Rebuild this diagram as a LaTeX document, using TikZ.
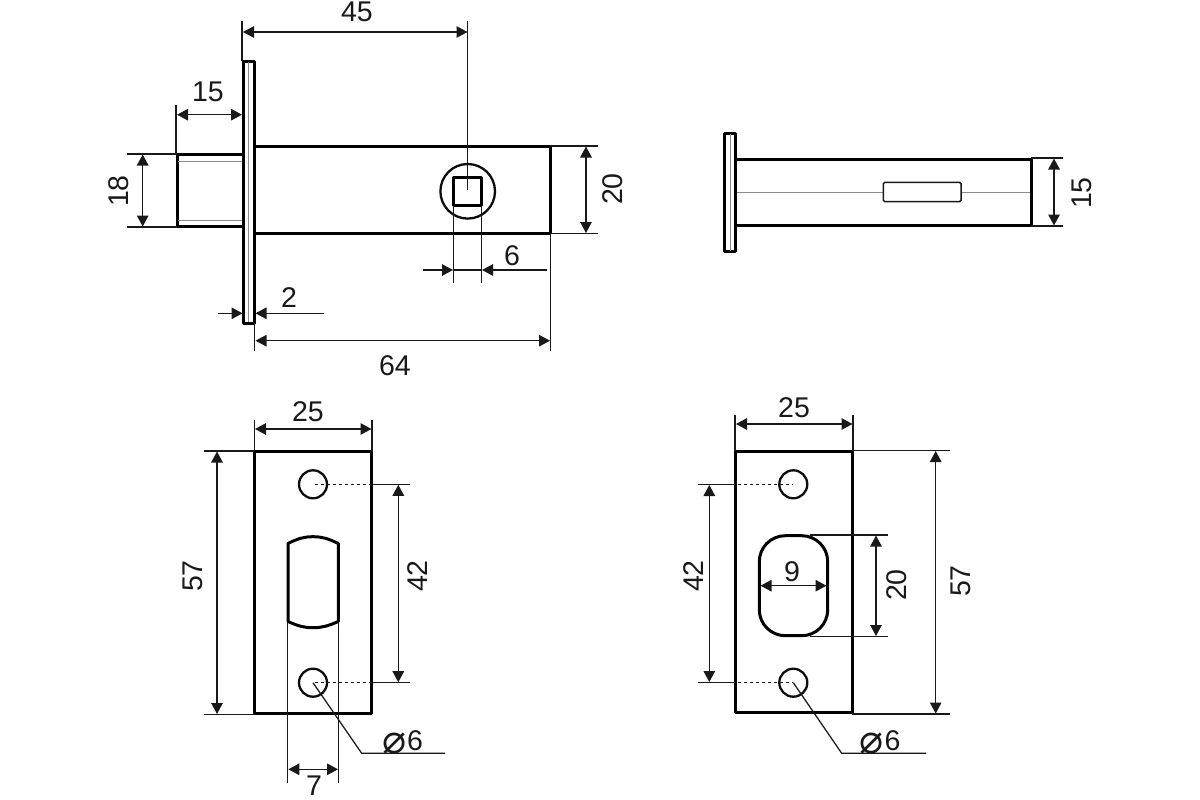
\documentclass[tikz,border=0pt]{standalone}
\usepackage{fontspec}
\setmainfont{Liberation Sans}
\newfontfamily\dejavu{DejaVu Sans}
\usetikzlibrary{arrows.meta}
\tikzset{
  x=1pt,y=-1pt,
  part/.style={line width=3pt,draw=black,line join=round},
  hole/.style={line width=2.3pt,draw=black!95},
  thinl/.style={line width=1.25pt,draw=black!90},
  hair/.style={line width=0.8pt,draw=black!45},
  dim/.style={line width=1.25pt,draw=black!90,{Triangle[length=11pt,width=11.5pt]}-{Triangle[length=11pt,width=11.5pt]}},
  dimend/.style={line width=1.25pt,draw=black!90,-{Triangle[length=11pt,width=11.5pt]}},
  dots/.style={line width=1.25pt,draw=black!90,dash pattern=on 3pt off 3pt},
  lab/.style={font=\fontsize{28.5}{28.5}\selectfont,text=black!90,inner sep=0pt},
  labr/.style={lab,rotate=90},
}
\newcommand{\diasym}{{\dejavu\fontsize{40}{40}\selectfont\raisebox{-3.5pt}{⌀}}}
\begin{document}
\begin{tikzpicture}
\useasboundingbox (0,0) rectangle (1200,800);
\fill[white] (0,0) rectangle (1200,800);

% ---- top-left view
\draw[part] (177.5,154.5) rectangle (243,226.5);
\draw[hair] (178,161) -- (243,161) (178,220.7) -- (243,220.7);
\draw[part] (255,146) -- (550,146) -- (550,233) -- (255,233);
\draw[part] (243.5,61.5) rectangle (254,323);
\draw[hair] (248.7,62) -- (248.7,322);
\draw[hole] (467.7,191.3) circle (27.3);
\draw[part] (453.5,177.7) rectangle (481.5,205.7);
% extension lines
\draw[thinl] (242,21) -- (242,61) (467.7,21) -- (467.7,190);
\draw[thinl] (176,105) -- (176,154) (127,154) -- (177,154) (127,227) -- (177,227);
\draw[thinl] (550,146) -- (598,146) (550,233.5) -- (598,233.5);
\draw[thinl] (453.3,206) -- (453.3,283) (481.7,206) -- (481.7,283);
\draw[thinl] (254.7,323) -- (254.7,351) (550.3,233) -- (550.3,351);
% dimensions
\coordinate (a45l) at (243,32); \coordinate (a45r) at (467.5,32);
\draw[dim] (a45l) -- (a45r);
\draw[dim] (177,114.7) -- (242,114.7);
\draw[dim] (142.7,154.5) -- (142.7,226.5);
\draw[dim] (586,146.5) -- (586,233);
\draw[dim] (255.5,340.7) -- (550,340.7);
\draw[dimend] (218,313.3) -- (242.5,313.3);
\draw[dimend] (324,313.3) -- (255.5,313.3);
\draw[dimend] (423,270) -- (453,270);
\draw[thinl] (453.3,270) -- (481.7,270);
\draw[dimend] (547,270) -- (482,270);
\node[lab] (t45) at (357,11.5) {45};
\node[lab] (t15a) at (208,91.5) {15};
\node[labr] (t18) at (119,191) {18};
\node[labr] (t20a) at (613,189) {20};
\node[lab] (t6) at (512,256) {6};
\node[lab] (t2) at (289,298) {2};
\node[lab] (t64) at (395,366) {64};

% ---- top-right view
\draw[hair] (736,192) -- (883,192) (961,192) -- (1031,192);
\draw[part] (736,159) -- (1031.5,159) -- (1031.5,225.7) -- (736,225.7);
\draw[part] (724.5,133) rectangle (735.5,251.5);
\draw[hair] (730,134) -- (730,251);
\draw[line width=1.5pt,draw=black!90,rounded corners=1.5pt] (883.3,182.3) rectangle (961,201.7);
\draw[thinl] (1031,158) -- (1062.5,158) (1031,226) -- (1062.5,226);
\draw[dim] (1054,158.5) -- (1054,225.5);
\node[labr] (t15b) at (1082,193) {15};

% ---- bottom-left view
\draw[part] (254.5,451.7) rectangle (371.7,713.3);
\draw[hole] (313,484.3) circle (14);
\draw[hole] (313,682.7) circle (14);
\draw[part] (288,621.5) -- (288,543.5) .. controls (298,538.5) and (304,536.7) .. (313,536.7) .. controls (322,536.7) and (328,538.5) .. (338.3,543.5) -- (338.3,621.5) .. controls (328,626) and (322,627.7) .. (313,627.7) .. controls (304,627.7) and (298,626) .. (288,621.5) -- cycle;
\draw[dots] (315,484.3) -- (371,484.3) (315,682.7) -- (371,682.7);
\draw[thinl] (371,484.3) -- (410,484.3) (371,682.7) -- (410,682.7);
\draw[thinl] (254.3,420) -- (254.3,451) (372,420) -- (372,451);
\draw[thinl] (204,451) -- (254,451) (204,714.3) -- (254,714.3);
\draw[thinl] (287.7,622) -- (287.7,782.7) (338.7,622) -- (338.7,782.7);
\draw[thinl] (313,682.7) -- (361.7,753.3) -- (445,753.3);
\draw[dim] (255,429) -- (371.5,429);
\draw[dim] (217,451.5) -- (217,714);
\draw[dim] (398.3,484.8) -- (398.3,682.2);
\draw[dim] (288.3,769.3) -- (338,769.3);
\node[lab] (t25a) at (308,412) {25};
\node[labr] (t57a) at (193,576) {57};
\node[labr] (t42a) at (418,576) {42};
\node[lab,anchor=south] (t7) at (314,795.5) {7};
\node[lab,anchor=base] (d6a) at (402.5,750) {\diasym\hspace{1pt}6};

% ---- bottom-right view
\draw[part] (735.3,451.7) rectangle (852,712.7);
\draw[hole] (793.3,484.3) circle (14);
\draw[hole] (793.3,682.7) circle (14);
\draw[part,rounded corners=26pt] (759.3,535.7) rectangle (827.7,635.7);
\draw[dots] (738,484.3) -- (793,484.3) (738,682.7) -- (793,682.7);
\draw[thinl] (698,484.3) -- (735,484.3) (698,682.7) -- (735,682.7);
\draw[thinl] (735,415) -- (735,451) (853,415) -- (853,451);
\draw[thinl] (852,450.5) -- (950,450.5) (852,714) -- (950,714);
\draw[thinl] (810,535) -- (887.7,535) (810,636.5) -- (887.7,636.5);
\draw[thinl] (793.3,682.7) -- (841.7,753.3) -- (926,753.3);
\draw[dim] (736,424) -- (852.5,424);
\draw[dim] (935.7,451) -- (935.7,713.5);
\draw[dim] (709.3,485) -- (709.3,682);
\draw[dim] (876,535.5) -- (876,636);
\draw[dim] (760.5,585.7) -- (826.5,585.7);
\node[lab] (t25b) at (794,408) {25};
\node[labr] (t57b) at (961,581) {57};
\node[labr] (t42b) at (694,576) {42};
\node[labr] (t20b) at (897,585) {20};
\node[lab] (t9) at (792,572) {9};
\node[lab,anchor=base] (d6b) at (880,750) {\diasym\hspace{1pt}6};
\end{tikzpicture}
\end{document}
